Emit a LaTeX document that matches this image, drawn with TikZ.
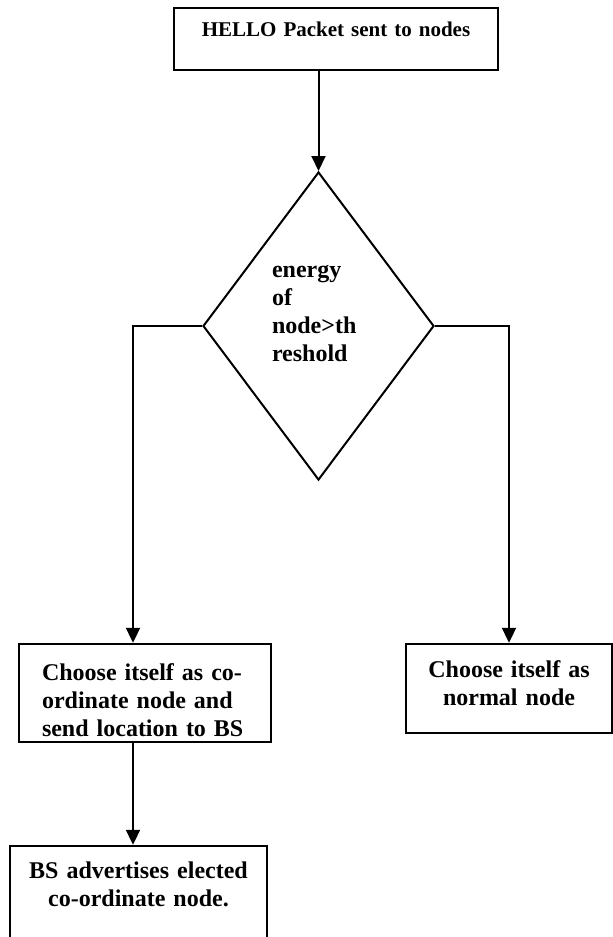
\documentclass[tikz,border=0pt]{standalone}
\usepackage{fontspec}
\setmainfont{Liberation Serif}
\usetikzlibrary{arrows.meta,shapes.geometric}
\tikzset{
	box/.style={shape=rectangle, draw, line width=2.4pt, inner sep=0pt, align=center, font=\fontsize{24}{28}\selectfont\bfseries},
	test/.style={shape=diamond, draw, line width=2pt, inner sep=0pt, align=left, font=\fontsize{24}{28}\selectfont\bfseries},
	flow/.style={line width=2pt, -{Triangle[width=14pt,length=15pt]}}
}
\begin{document}
\begin{tikzpicture}[x=1pt, y=-1pt]
			\useasboundingbox (0,0) rectangle (613,937);
			\clip (0,0) rectangle (613,937);

			\node (z1)[box, text width=324pt, text height=28pt, text depth=34pt, font=\fontsize{21}{25}\selectfont\bfseries] 
			at (336,39){
				HELLO Packet sent to nodes
			}; 

			\node (z2)[test, minimum width=227pt, minimum height=308pt, text width=93pt, text height=20pt, text depth=118pt] 
			at (318.5,326){
				energy \\
				of \\
				node>th \\
				reshold
			}; 

			\node (z3)[box, align=left, inner xsep=23pt, text width=206pt, text height=36pt, text depth=62pt] 
			at (145,693){
				Choose itself as co- \\
				ordinate node and \\
				send location to BS
			}; 

			\node (z4)[box, text width=206pt, text height=33pt, text depth=56pt] 
			at (509,688.5){
				Choose itself as \\
				normal node
			}; 

			\node (z5)[box, text width=257pt, text height=32pt, text depth=122pt] 
			at (138.5,923){
				BS advertises elected \\
				co-ordinate node.
			}; 

			\coordinate (l1) at (133,326);

			\draw[flow] (z1.south -| z2.north) -- (z2.north);
			\draw[flow] (z2.west) -- (l1) -- (l1 |- z3.north);
			\draw[flow] (z2.east) -| (z4.north);
			\draw[flow] (l1 |- z3.south) -- (l1 |- z5.north);
		\end{tikzpicture}
\end{document}
